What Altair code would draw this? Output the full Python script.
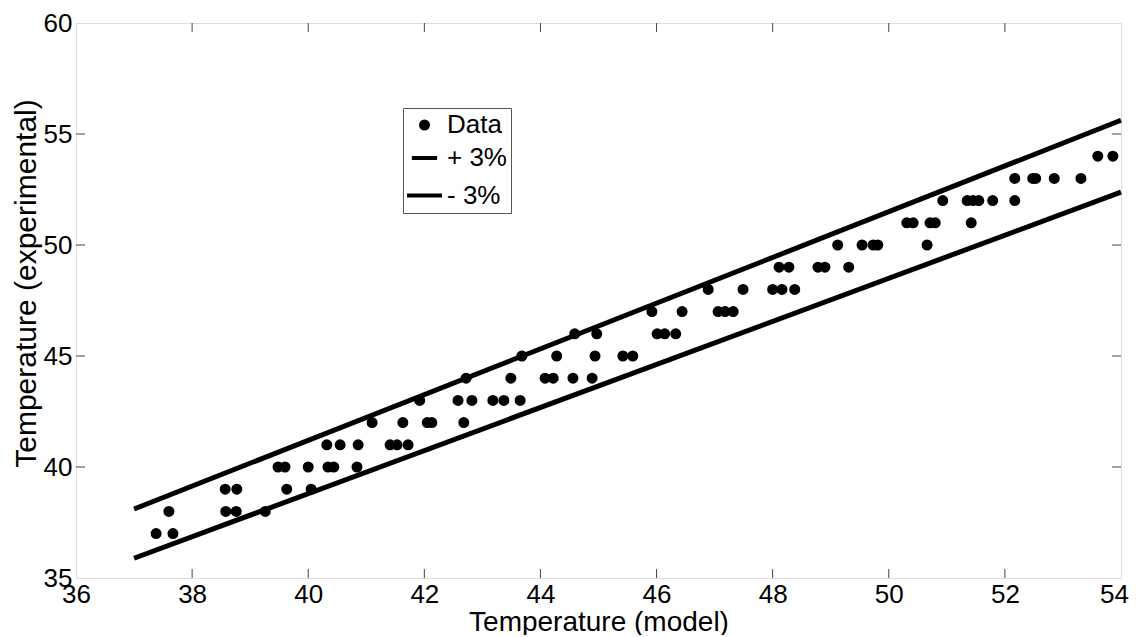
import altair as alt
import pandas as pd

# Measured data (model temperature, experimental temperature)
data_x = [37.38, 37.67,
          37.60, 38.58, 38.76, 39.26,
          38.57, 38.77, 39.63, 40.05,
          39.48, 39.60, 40.00, 40.34, 40.44, 40.84,
          40.32, 40.55, 40.86, 41.41, 41.53, 41.72,
          41.10, 41.63, 42.05, 42.13, 42.68,
          41.92, 42.58, 42.82, 43.18, 43.37, 43.65,
          42.72, 43.49, 44.08, 44.22, 44.56, 44.89,
          43.68, 44.28, 44.94, 45.42, 45.59,
          44.59, 44.97, 46.01, 46.14, 46.33,
          45.92, 46.44, 47.06, 47.18, 47.32,
          46.89, 47.49, 48.00, 48.16, 48.38,
          48.11, 48.28, 48.78, 48.90, 49.31,
          49.12, 49.54, 49.73, 49.81, 50.66,
          50.31, 50.42, 50.71, 50.80, 51.42,
          50.93, 51.35, 51.45, 51.55, 51.79, 52.17,
          52.17, 52.48, 52.53, 52.85, 53.31,
          53.60, 53.86]
data_y = [37, 37,
          38, 38, 38, 38,
          39, 39, 39, 39,
          40, 40, 40, 40, 40, 40,
          41, 41, 41, 41, 41, 41,
          42, 42, 42, 42, 42,
          43, 43, 43, 43, 43, 43,
          44, 44, 44, 44, 44, 44,
          45, 45, 45, 45, 45,
          46, 46, 46, 46, 46,
          47, 47, 47, 47, 47,
          48, 48, 48, 48, 48,
          49, 49, 49, 49, 49,
          50, 50, 50, 50, 50,
          51, 51, 51, 51, 51,
          52, 52, 52, 52, 52, 52,
          53, 53, 53, 53, 53,
          54, 54]

# Band lines (+3% / -3%) endpoints
band_x = [37, 54]
upper_y = [38.11, 55.62]
lower_y = [35.89, 52.38]

series_names = ["Data", "+ 3%", "- 3%"]
x_ticks = [36, 38, 40, 42, 44, 46, 48, 50, 52, 54]
y_ticks = [35, 40, 45, 50, 55, 60]
x_inner_ticks = [38, 40, 42, 44, 46, 48, 50, 52]
y_inner_ticks = [40, 45, 50, 55]

W, H = 1045, 555
FONT = "Liberation Sans"

pts = pd.DataFrame({"x": data_x, "y": data_y, "series": "Data"})
lines = pd.concat([
    pd.DataFrame({"x": band_x, "y": upper_y, "series": "+ 3%"}),
    pd.DataFrame({"x": band_x, "y": lower_y, "series": "- 3%"}),
])
xt = pd.DataFrame({"v": x_inner_ticks})
yt = pd.DataFrame({"v": y_inner_ticks})

xscale = alt.Scale(domain=[36, 54], nice=False, zero=False)
yscale = alt.Scale(domain=[35, 60], nice=False, zero=False)

xaxis = alt.Axis(values=x_ticks, format="d", title="Temperature (model)", ticks=False,
                 domain=False, grid=False, labelFontSize=26, titleFontSize=28,
                 labelFont=FONT, titleFont=FONT, labelColor="black", titleColor="black",
                 labelFlush=False, labelOverlap=False, labelPadding=3, titlePadding=1,
                 labelOffset=alt.condition("datum.value == 54", alt.value(-7), alt.value(0)),
                 titleFontWeight="normal")
yaxis = alt.Axis(values=y_ticks, format="d", title="Temperature (experimental)",
                 ticks=False, domain=False, grid=False, labelFontSize=26,
                 titleFontSize=30, labelFont=FONT, titleFont=FONT, labelColor="black",
                 titleColor="black", labelFlush=False, labelOverlap=False,
                 labelPadding=4, titlePadding=2, titleY=260, titleFontWeight="normal")

legend = alt.Legend(title=None, orient="none", legendX=327, legendY=85,
                    labelFont=FONT, labelFontSize=26, labelColor="black",
                    labelExpr="pad(datum.label, 7)",
                    symbolFillColor="black", symbolStrokeColor="black",
                    symbolStrokeWidth=4, symbolOpacity=1, symbolOffset=-2,
                    strokeColor="#555555", fillColor="white",
                    padding=4, rowPadding=5, labelOffset=3)

points = alt.Chart(pts).mark_point(filled=False, fill="black", strokeWidth=4,
                                   opacity=1).encode(
    x=alt.X("x:Q", scale=xscale, axis=xaxis),
    y=alt.Y("y:Q", scale=yscale, axis=yaxis),
    color=alt.Color("series:N", scale=alt.Scale(domain=series_names,
                    range=["black", "black", "black"]), legend=legend),
    shape=alt.Shape("series:N", scale=alt.Scale(domain=series_names,
                    range=["circle", "stroke", "stroke"]), legend=legend),
    size=alt.Size("series:N", scale=alt.Scale(domain=series_names,
                  range=[49, 1225, 1225]), legend=legend),
    strokeWidth=alt.StrokeWidth("series:N", scale=alt.Scale(domain=series_names,
                                range=[4, 4, 4]), legend=legend),
)

band = alt.Chart(lines).mark_line(color="black", strokeWidth=5).encode(
    x=alt.X("x:Q", scale=xscale),
    y=alt.Y("y:Q", scale=yscale),
    detail="series:N",
)

tick_color = "#444444"
xt_bottom = alt.Chart(xt).mark_rule(color=tick_color, strokeWidth=1).encode(
    x=alt.X("v:Q", scale=xscale), y=alt.value(H), y2=alt.value(H - 9))
xt_top = alt.Chart(xt).mark_rule(color=tick_color, strokeWidth=1).encode(
    x=alt.X("v:Q", scale=xscale), y=alt.value(0), y2=alt.value(9))
yt_left = alt.Chart(yt).mark_rule(color=tick_color, strokeWidth=1).encode(
    y=alt.Y("v:Q", scale=yscale), x=alt.value(0), x2=alt.value(9))
yt_right = alt.Chart(yt).mark_rule(color=tick_color, strokeWidth=1).encode(
    y=alt.Y("v:Q", scale=yscale), x=alt.value(W), x2=alt.value(W - 9))

chart = alt.layer(xt_bottom, xt_top, yt_left, yt_right, band, points).properties(
    width=W, height=H,
    autosize=alt.AutoSizeParams(type="none"),
    padding={"left": 68, "top": 15, "right": 9, "bottom": 57},
).configure_view(stroke="#444444", strokeWidth=1).configure(background="white")

chart.save("out.html", embed_options={"renderer": "svg", "actions": False})
